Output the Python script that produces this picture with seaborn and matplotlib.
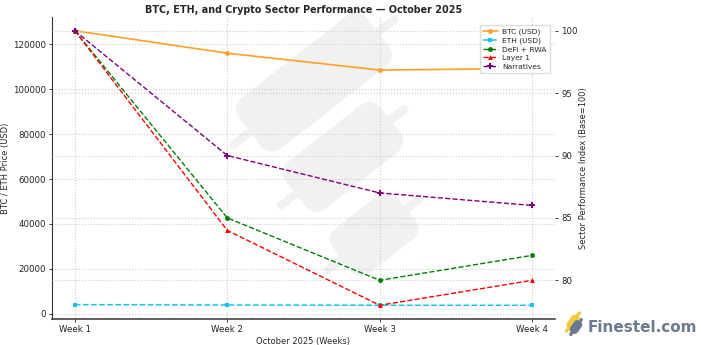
import numpy as np
import pandas as pd
import matplotlib
matplotlib.use("Agg")
import matplotlib.pyplot as plt
import matplotlib.patches as mpatches
import matplotlib.transforms as mtransforms
import seaborn as sns

weeks = ["Week 1", "Week 2", "Week 3", "Week 4"]
btc = [126000, 116000, 108500, 109200]
eth = [4100, 3900, 3800, 3800]
defi = [100, 85, 80, 82]
layer1 = [100, 84, 78, 80]
narratives = [100, 90, 87, 86]

sns.set_theme(style="ticks")
plt.rcParams['font.family'] = ['DejaVu Sans']

W, H = 701, 345
fig = plt.figure(figsize=(W / 100, H / 100), dpi=100)

# background watermark (pixel coordinates, y measured from top)
bg = fig.add_axes([0, 0, 1, 1], zorder=-5)
bg.set_xlim(0, W)
bg.set_ylim(0, H)
bg.axis("off")


def candle(ax, cx, cy, length, width, wick_lo, wick_hi, ang, color, wlw, r):
    cy = H - cy
    a = np.deg2rad(ang)
    dx, dy = np.cos(a), np.sin(a)
    ax.plot([cx - wick_lo * dx, cx + wick_hi * dx],
            [cy - wick_lo * dy, cy + wick_hi * dy],
            color=color, lw=wlw, solid_capstyle="round", zorder=1)
    box = mpatches.FancyBboxPatch((cx - length / 2, cy - width / 2), length, width,
                                  boxstyle=f"round,pad=0,rounding_size={r}",
                                  facecolor=color, edgecolor="none", zorder=2)
    tr = mtransforms.Affine2D().rotate_deg_around(cx, cy, ang) + ax.transData
    box.set_transform(tr)
    ax.add_patch(box)


wm = "#f1f1f2"
candle(bg, 314, 82, 162, 64, 102, 102, 38, wm, 6, 16)
candle(bg, 343, 157, 120, 60, 78, 78, 38, wm, 6, 16)
candle(bg, 374, 234, 82, 56, 58, 58, 38, wm, 6, 15)

# brand logo
candle(bg, 573, 322, 15, 9, 11, 11, 55, "#f5c842", 2.5, 4)
candle(bg, 576, 327, 14, 9, 9, 9, 55, "#6b7a8f", 2.5, 4)
bg.text(588, H - 327, "Finestel.com", color="#6b7a8f", fontsize=11,
        fontweight="bold", va="center", ha="left")

ax = fig.add_axes([52 / W, 1 - 319 / H, (555 - 52) / W, (319 - 17) / H])
ax.patch.set_visible(False)
ax2 = ax.twinx()

df = pd.DataFrame({"week": weeks, "btc": btc, "eth": eth, "defi": defi,
                   "layer1": layer1, "narr": narratives})

sns.lineplot(data=df, x="week", y="btc", ax=ax, color="#ff9f2a", marker="o",
             markersize=3.5, markeredgewidth=0, lw=1.2, label="BTC (USD)", sort=False)
sns.lineplot(data=df, x="week", y="eth", ax=ax, color="#18c3f0", marker="s",
             markersize=3.5, markeredgewidth=0, lw=1.1, linestyle="--", label="ETH (USD)", sort=False)
sns.lineplot(data=df, x="week", y="defi", ax=ax2, color="green", marker="o",
             markersize=3.5, markeredgewidth=0, lw=1.0, linestyle="--", label="DeFi + RWA", sort=False)
sns.lineplot(data=df, x="week", y="layer1", ax=ax2, color="red", marker="^",
             markersize=3.5, markeredgewidth=0, lw=1.0, linestyle="--", label="Layer 1", sort=False)
sns.lineplot(data=df, x="week", y="narr", ax=ax2, color="purple", marker="P",
             markersize=4, markeredgewidth=0, lw=1.0, linestyle="--", label="Narratives", sort=False)

for a in (ax, ax2):
    a.grid(True, linestyle=":", color="#cccccc", lw=0.8)
    a.tick_params(labelsize=6.2, length=2.5, width=0.6, colors="#222222", pad=2)
    for s in ("top", "right"):
        a.spines[s].set_visible(False)
ax2.spines["left"].set_visible(False)
ax2.spines["bottom"].set_visible(False)
ax.spines["left"].set_color("#333333")
ax.spines["bottom"].set_color("#444444")
ax.spines["left"].set_linewidth(0.8)
ax.spines["bottom"].set_linewidth(1.2)

ax.set_yticks([0, 20000, 40000, 60000, 80000, 100000, 120000])
ax2.set_yticks([80, 85, 90, 95, 100])
ax.set_xlabel("October 2025 (Weeks)", fontsize=6, labelpad=2)
ax.set_ylabel("BTC / ETH Price (USD)", fontsize=6)
ax.yaxis.set_label_coords((10 - 52) / 503, 0.5)
ax2.set_ylabel("Sector Performance Index (Base=100)", fontsize=6)
ax2.yaxis.set_label_coords((579 - 52) / 503, 0.5)
ax.set_title("BTC, ETH, and Crypto Sector Performance \u2014 October 2025",
             fontsize=6.9, fontweight="bold", pad=3)

if ax.get_legend():
    ax.get_legend().remove()
if ax2.get_legend():
    ax2.get_legend().remove()
h1, l1 = ax.get_legend_handles_labels()
h2, l2 = ax2.get_legend_handles_labels()
ax2.legend(h1 + h2, l1 + l2, loc="upper right", fontsize=5.4, frameon=True,
           framealpha=1, edgecolor="#dddddd", fancybox=False,
           bbox_to_anchor=(0.997, 0.985), handlelength=2.0, borderpad=0.4,
           labelspacing=0.3, handletextpad=0.6)

fig.savefig("out.png", dpi=100)
